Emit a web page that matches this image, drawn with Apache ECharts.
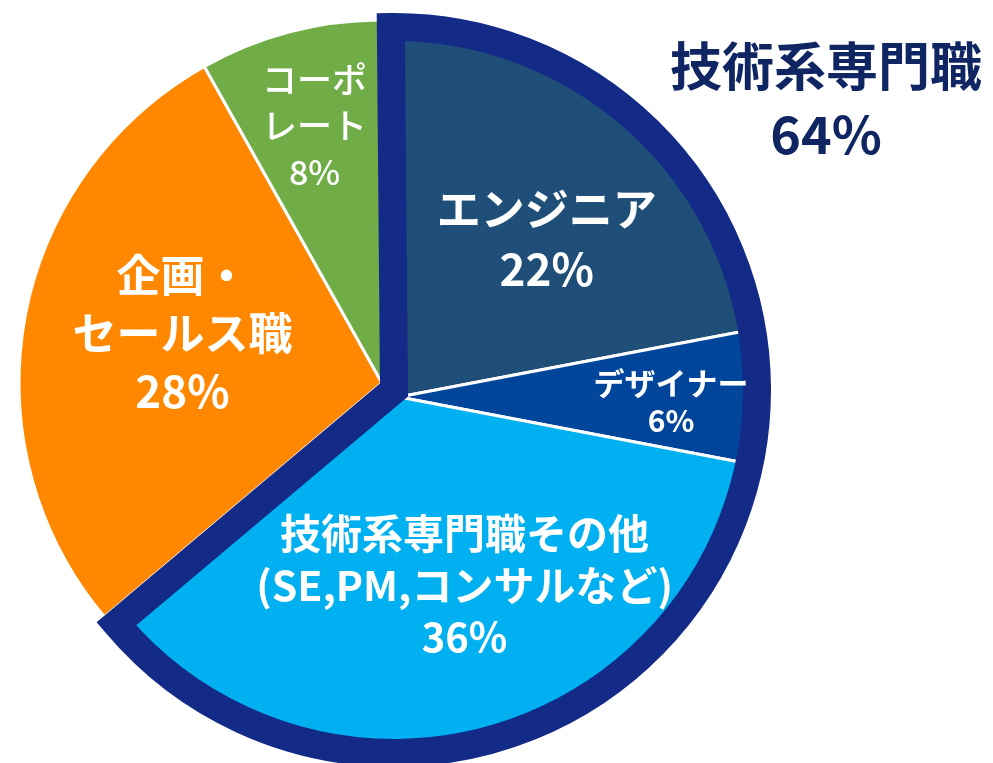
<!DOCTYPE html>
<html>
<head>
<meta charset="utf-8">
<style>
html, body { margin: 0; padding: 0; background: #fff; }
#chart { width: 993px; height: 763px; }
</style>
</head>
<body>
<div id="chart"></div>
<script src="https://cdn.jsdelivr.net/npm/echarts@6/dist/echarts.min.js"></script>
<script>
// 職種別の構成比（%）
const techNames = ['エンジニア', 'デザイナー', '技術系専門職その他\n(SE,PM,コンサルなど)'];
const techValues = [22, 6, 36];
const otherNames = ['企画・\nセールス職', 'コーポ\nレート'];
const otherValues = [28, 8];
const groupName = '技術系専門職';
const groupValue = 64;

const techColors = ['#1f4e79', '#01469a', '#00b0f0'];
const otherColors = ['#ff8800', '#70ad47'];
const navy = '#132a87';
const font = '"Noto Sans CJK JP", "Noto Sans", sans-serif';

// ラベルの文字サイズ [名前, %, 太さ, 行高]
const techLabelStyle = [[44, 44, 'bold', 60], [31, 30, 'bold', 38], [41, 40, 'bold', 52]];
const otherLabelStyle = [[44, 44, 'bold', 58], [35, 34, 500, 46]];
// ラベルの微調整
const techShift = [[31, -17], [89, 5], [20, 11]];
const otherShift = [[-18, -17], [-20, -79]];

function labelText(name, value) {
    return name.split('\n').map(s => '{n|' + s + '}').join('\n') + '\n{p|' + value + '%}';
}

function labelOf(name, value, st) {
    return {
        show: true,
        position: 'inside',
        formatter: labelText(name, value),
        rich: {
            n: { fontSize: st[0], fontWeight: st[2], lineHeight: st[3], color: '#fff', fontFamily: font },
            p: { fontSize: st[1], fontWeight: st[2], lineHeight: st[3], color: '#fff', fontFamily: font }
        }
    };
}

const hidden = v => ({
    value: v,
    itemStyle: { color: 'rgba(0,0,0,0)', borderWidth: 0 },
    label: { show: false }
});

const techData = techValues.map((v, i) => ({
    value: v,
    name: techNames[i],
    itemStyle: { color: techColors[i] },
    label: labelOf(techNames[i], v, techLabelStyle[i])
})).concat(otherValues.map(hidden));

const otherData = techValues.map(hidden).concat(otherValues.map((v, i) => ({
    value: v,
    name: otherNames[i],
    itemStyle: { color: otherColors[i] },
    label: labelOf(otherNames[i], v, otherLabelStyle[i])
})));

const otherSum = otherValues.reduce((a, b) => a + b, 0);

const chart = echarts.init(document.getElementById('chart'));
chart.setOption({
    animation: false,
    backgroundColor: '#fff',
    title: {
        text: groupName + '\n' + groupValue + '%',
        left: 826,
        top: 32,
        padding: 0,
        textAlign: 'center',
        textStyle: {
            color: '#0f2663',
            fontSize: 52,
            fontWeight: 'bold',
            lineHeight: 68,
            fontFamily: font
        }
    },
    series: [
        {
            type: 'pie',
            center: [382, 383],
            radius: 363,
            startAngle: 90.5,
            silent: true,
            avoidLabelOverlap: false,
            itemStyle: { borderColor: '#fff', borderWidth: 3 },
            labelLine: { show: false },
            labelLayout: p => ({ dx: (otherShift[p.dataIndex - techValues.length] || [0, 0])[0], dy: (otherShift[p.dataIndex - techValues.length] || [0, 0])[1] }),
            data: otherData
        },
        {
            type: 'pie',
            center: [399, 397],
            radius: 360,
            startAngle: 90,
            silent: true,
            avoidLabelOverlap: false,
            itemStyle: { borderColor: '#fff', borderWidth: 3 },
            labelLine: { show: false },
            labelLayout: p => ({ dx: (techShift[p.dataIndex] || [0, 0])[0], dy: (techShift[p.dataIndex] || [0, 0])[1] }),
            data: techData
        },
        {
            type: 'pie',
            center: [394, 390],
            radius: 363,
            startAngle: 90.5,
            silent: true,
            label: { show: false },
            labelLine: { show: false },
            data: [
                { value: groupValue, itemStyle: { color: 'rgba(0,0,0,0)', borderColor: navy, borderWidth: 28, borderJoin: 'miter', borderMiterLimit: 10 } },
                { value: otherSum, itemStyle: { color: 'rgba(0,0,0,0)', borderWidth: 0 } }
            ]
        }
    ]
});
</script>
</body>
</html>
